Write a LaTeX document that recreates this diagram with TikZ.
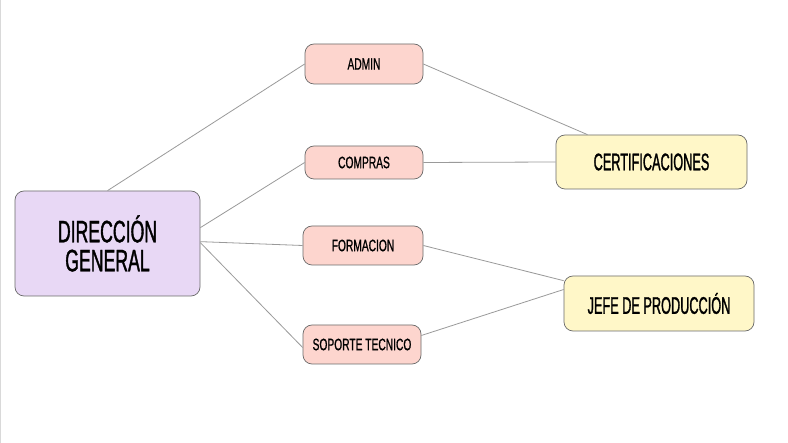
\documentclass[tikz,border=0pt]{standalone}
\usepackage{fontspec}
\setmainfont{Liberation Sans}
\newfontfamily\dgfont[FakeStretch=0.57,FakeBold=1.2]{Liberation Sans}
\newfontfamily\bigfont[FakeStretch=0.53,FakeBold=1.2]{Liberation Sans}
\newfontfamily\smallfont[FakeStretch=0.62,FakeBold=0.9]{Liberation Sans}
\definecolor{lav}{HTML}{E8D8F5}
\definecolor{pinkf}{HTML}{FDD5CE}
\definecolor{yelf}{HTML}{FFF7C8}
\definecolor{edgec}{HTML}{6A6A6A}
\definecolor{linkc}{HTML}{9A9A9A}
\tikzset{
  box/.style={draw=edgec, line width=0.7pt, rounded corners=9pt, align=center, inner sep=0pt, text=black},
  dgbox/.style={box, fill=lav, minimum width=185pt, minimum height=105pt, font=\dgfont\fontsize{31}{29}\selectfont},
  subbox/.style={box, fill=pinkf, minimum width=118pt, font=\smallfont\fontsize{16.5}{17}\selectfont},
  headbox/.style={box, fill=yelf, minimum width=190pt, minimum height=55pt, font=\bigfont\fontsize{24}{26}\selectfont},
  link/.style={draw=linkc, line width=0.8pt}
}
\begin{document}
\begin{tikzpicture}[x=1pt,y=-1pt]
\useasboundingbox (0,0) rectangle (788,443);
\fill[white] (0,0) rectangle (788,443);
\draw[draw=black!15, line width=1pt] (0.5,0) -- (0.5,443);

\node[dgbox] (dg) at (107.5,243.5) {DIRECCIÓN\\GENERAL};
\node[subbox, minimum height=40pt] (admin) at (364,64) {ADMIN};
\node[subbox, minimum height=33pt] (compras) at (364,162.5) {COMPRAS};
\node[subbox, minimum height=39pt, minimum width=120pt] (form) at (363,245.5) {FORMACION};
\node[subbox, minimum height=39pt] (sop) at (362,344.5) {SOPORTE TECNICO};
\node[headbox, minimum width=191pt, minimum height=54pt] (cert) at (651.5,162) {CERTIFICACIONES};
\node[headbox, minimum height=55pt] (jefe) at (659,303.5) {JEFE DE PRODUCCIÓN};

\draw[link] (dg.north) -- (admin.west);
\draw[link] ([yshift=-37pt]dg.north east) -- (compras.west);
\draw[link] ([yshift=-51pt]dg.north east) -- (form.west);
\draw[link] ([yshift=-52pt]dg.north east) -- ([yshift=-3pt]sop.west);
\draw[link] (admin.east) -- ([xshift=-64pt]cert.north);
\draw[link] (compras.east) -- (cert.west);
\draw[link] (form.east) -- ([yshift=-5pt]jefe.north west);
\draw[link] ([yshift=9pt]sop.east) -- ([yshift=14pt]jefe.west);
\end{tikzpicture}
\end{document}
